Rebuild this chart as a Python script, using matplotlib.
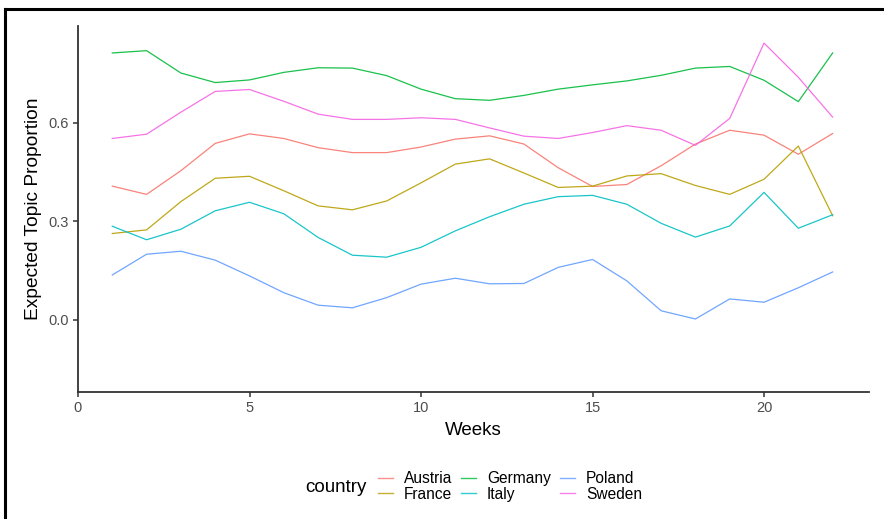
import matplotlib.pyplot as plt
from matplotlib.lines import Line2D

plt.rcParams['font.family'] = ['Liberation Sans', 'DejaVu Sans']

weeks = list(range(1, 23))
countries = ['Austria', 'France', 'Germany', 'Italy', 'Poland', 'Sweden']
colors = ['#F8766D', '#B79F00', '#00BA38', '#00BFC4', '#619CFF', '#F564E3']

austria = [0.407, 0.382, 0.454, 0.537, 0.566, 0.552, 0.524, 0.509, 0.509, 0.526, 0.550,
           0.560, 0.535, 0.463, 0.406, 0.412, 0.469, 0.535, 0.577, 0.562, 0.504, 0.567]
france = [0.263, 0.274, 0.360, 0.431, 0.437, 0.393, 0.347, 0.335, 0.362, 0.417, 0.474,
          0.490, 0.447, 0.403, 0.407, 0.438, 0.445, 0.409, 0.382, 0.428, 0.529, 0.317]
germany = [0.812, 0.819, 0.751, 0.722, 0.730, 0.753, 0.767, 0.766, 0.743, 0.702, 0.673,
           0.668, 0.683, 0.702, 0.715, 0.727, 0.744, 0.766, 0.771, 0.729, 0.664, 0.812]
italy = [0.285, 0.244, 0.276, 0.332, 0.358, 0.323, 0.251, 0.197, 0.191, 0.221, 0.271,
         0.314, 0.352, 0.375, 0.379, 0.352, 0.294, 0.252, 0.286, 0.388, 0.279, 0.320]
poland = [0.137, 0.200, 0.209, 0.182, 0.134, 0.083, 0.045, 0.037, 0.068, 0.109, 0.127,
          0.110, 0.111, 0.160, 0.184, 0.119, 0.028, 0.003, 0.064, 0.054, 0.098, 0.146]
sweden = [0.552, 0.565, 0.632, 0.695, 0.701, 0.665, 0.626, 0.610, 0.610, 0.615, 0.610,
          0.584, 0.559, 0.552, 0.570, 0.591, 0.577, 0.531, 0.613, 0.842, 0.738, 0.617]

series = [austria, france, germany, italy, poland, sweden]

fig = plt.figure(figsize=(8.84, 5.19), dpi=100)
ax = fig.add_axes([78 / 884, 1 - 392 / 519, (869 - 78) / 884, (392 - 26) / 519])

for name, vals, c in zip(countries, series, colors):
    ax.plot(weeks, vals, color=c, lw=0.9, alpha=0.9, label=name)

ax.set_xlim(0, 23.06)
ax.set_ylim(-0.219, 0.894)
ax.set_xticks([0, 5, 10, 15, 20])
ax.set_yticks([0.0, 0.3, 0.6])
ax.set_yticklabels(['0.0', '0.3', '0.6'])

for s in ['top', 'right']:
    ax.spines[s].set_visible(False)
for s in ['left', 'bottom']:
    ax.spines[s].set_color('#333333')
    ax.spines[s].set_linewidth(1.3)
ax.tick_params(colors='#333333', labelcolor='#4D4D4D', labelsize=10.5, length=3.5, width=1.1,
               pad=3)

ax.set_xlabel('Weeks', fontsize=13.5, labelpad=5)
ax.set_ylabel('Expected Topic Proportion', fontsize=13.8, labelpad=5)

# legend along the bottom, title to its left
fig.text(305 / 884, 1 - 487 / 519, 'country', fontsize=13.5, va='center', ha='left')
handles = [Line2D([], [], color=c, lw=1.0, alpha=0.8) for c in colors]
fig.legend(handles, countries, ncol=3, frameon=False, fontsize=11.2,
           loc='center left', bbox_to_anchor=(378 / 884, 1 - 486.5 / 519),
           handlelength=0.95, handletextpad=0.7, columnspacing=0.6,
           labelspacing=0.05, borderaxespad=0, borderpad=0)

# outer frame (top and left edges only visible)
fig.add_artist(Line2D([5 / 884, 1], [1 - 9 / 519, 1 - 9 / 519], color='black', lw=2.2,
                      transform=fig.transFigure))
fig.add_artist(Line2D([5 / 884, 5 / 884], [0, 1 - 9 / 519], color='black', lw=2.2,
                      transform=fig.transFigure))

fig.savefig('out.png', dpi=100)
